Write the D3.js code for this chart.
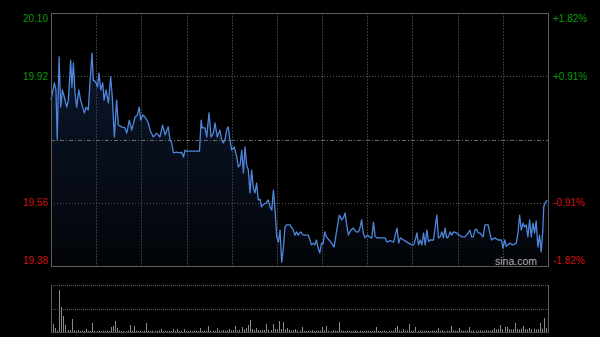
<!DOCTYPE html>
<html>
<head>
<meta charset="utf-8">
<script src="https://cdn.jsdelivr.net/npm/d3@7"></script>
<style>
  html, body { margin: 0; padding: 0; background: #000; }
  svg { display: block; }
</style>
</head>
<body>
<div id="chart"></div>
<script>
// intraday price chart, 240 trading minutes

var preClose = 19.74;
var priceTicks = [20.10, 19.92, 19.56, 19.38];
var pctTicks = ["+1.82%", "+0.91%", "-0.91%", "-1.82%"];

// minute of the session, price
var minutes = [0.0, 1.6, 2.4, 3.0, 3.9, 4.7, 5.5, 6.4, 7.6, 8.4, 9.5, 10.1, 10.8, 11.6, 12.4, 13.4, 14.3, 15.3, 16.1, 16.9,
	18.0, 18.8, 19.8, 20.4, 21.6, 22.4, 23.2, 24.0, 25.0, 25.6, 26.6, 27.7, 28.8, 29.6, 30.6, 31.7, 32.5, 34.1, 35.7, 36.6,
	37.8, 39.0, 40.6, 41.7, 42.6, 43.3, 44.3, 45.4, 47.0, 47.8, 49.4, 51.0, 52.6, 53.9, 55.1, 56.6, 57.5, 58.3, 59.1, 60.7,
	62.3, 63.1, 64.0, 64.7, 65.5, 71.7, 72.5, 73.0, 74.4, 75.2, 76.3, 77.3, 78.4, 79.2, 80.3, 81.6, 82.4, 83.2, 84.0, 84.8,
	85.6, 86.4, 87.3, 88.5, 89.7, 90.5, 91.3, 92.1, 92.9, 93.7, 94.5, 95.3, 96.1, 96.9, 97.7, 98.5, 99.3, 100.1, 100.9, 101.7,
	102.5, 103.8, 104.9, 105.8, 106.6, 107.4, 108.2, 109.0, 109.8, 110.6, 111.4, 112.2, 113.0, 113.8, 115.4, 117.0, 117.8, 118.6, 119.4, 120.6,
	121.8, 124.2, 125.8, 126.6, 127.4, 128.2, 129.0, 129.8, 130.6, 131.4, 132.2, 133.0, 134.3, 135.5, 136.7, 138.0, 139.2, 140.4, 141.2, 142.0,
	142.8, 143.6, 144.8, 146.0, 147.3, 148.4, 149.2, 150.0, 150.8, 151.6, 152.8, 153.7, 154.9, 155.7, 156.5, 157.3, 159.0, 161.4, 162.2, 163.8,
	165.5, 166.3, 167.1, 167.9, 168.7, 170.3, 171.9, 172.7, 174.3, 175.1, 175.9, 176.7, 177.5, 178.3, 179.1, 179.9, 180.7, 181.5, 182.3, 183.1,
	184.7, 186.3, 187.1, 187.9, 188.7, 189.5, 190.3, 191.1, 191.9, 192.7, 193.5, 194.3, 195.9, 196.7, 197.5, 198.3, 199.9, 201.5, 202.3, 203.1,
	203.9, 204.7, 205.5, 206.3, 207.1, 208.7, 209.5, 211.1, 211.9, 212.7, 214.3, 215.9, 217.5, 218.3, 219.1, 219.9, 221.5, 223.1, 224.7, 225.5,
	226.3, 227.1, 227.9, 228.7, 229.5, 230.3, 231.1, 231.9, 232.7, 233.5, 234.3, 235.1, 235.9, 236.7, 237.5, 237.9, 238.8, 239.6];

var prices = [19.852, 19.901, 19.881, 19.739, 19.975, 19.832, 19.881, 19.861, 19.832, 19.852, 19.966, 19.889, 19.958, 19.872, 19.832, 19.881, 19.852, 19.832, 19.815, 19.832,
	19.824, 19.901, 19.986, 19.909, 19.904, 19.889, 19.929, 19.881, 19.901, 19.852, 19.881, 19.844, 19.918, 19.861, 19.747, 19.852, 19.781, 19.776, 19.773, 19.758,
	19.795, 19.767, 19.804, 19.810, 19.832, 19.795, 19.810, 19.804, 19.787, 19.767, 19.747, 19.758, 19.747, 19.781, 19.753, 19.776, 19.739, 19.730, 19.702, 19.704,
	19.702, 19.704, 19.690, 19.710, 19.707, 19.707, 19.795, 19.773, 19.773, 19.747, 19.816, 19.747, 19.758, 19.787, 19.747, 19.767, 19.739, 19.730, 19.739, 19.767,
	19.776, 19.739, 19.710, 19.719, 19.690, 19.662, 19.667, 19.710, 19.645, 19.719, 19.667, 19.653, 19.588, 19.653, 19.602, 19.588, 19.616, 19.568, 19.570, 19.548,
	19.555, 19.559, 19.568, 19.548, 19.539, 19.596, 19.539, 19.463, 19.448, 19.482, 19.391, 19.431, 19.491, 19.497, 19.497, 19.482, 19.468, 19.477, 19.468, 19.477,
	19.468, 19.468, 19.440, 19.445, 19.440, 19.454, 19.431, 19.417, 19.445, 19.443, 19.477, 19.463, 19.454, 19.445, 19.434, 19.482, 19.525, 19.511, 19.517, 19.531,
	19.497, 19.468, 19.482, 19.488, 19.477, 19.477, 19.488, 19.511, 19.474, 19.460, 19.468, 19.463, 19.460, 19.505, 19.465, 19.460, 19.460, 19.460, 19.448, 19.452,
	19.448, 19.470, 19.488, 19.445, 19.460, 19.454, 19.448, 19.445, 19.440, 19.440, 19.454, 19.474, 19.440, 19.454, 19.440, 19.474, 19.440, 19.482, 19.450, 19.454,
	19.454, 19.525, 19.460, 19.463, 19.477, 19.460, 19.488, 19.460, 19.463, 19.477, 19.468, 19.477, 19.474, 19.468, 19.468, 19.463, 19.463, 19.474, 19.482, 19.463,
	19.463, 19.482, 19.485, 19.474, 19.474, 19.463, 19.497, 19.497, 19.474, 19.454, 19.460, 19.454, 19.454, 19.431, 19.454, 19.436, 19.445, 19.440, 19.445, 19.474,
	19.525, 19.482, 19.502, 19.491, 19.497, 19.463, 19.511, 19.463, 19.502, 19.474, 19.508, 19.434, 19.468, 19.420, 19.482, 19.548, 19.562, 19.568];

// volume per minute (lots)
var volumes = [300, 800, 400, 150, 4200, 2500, 1600, 700, 200, 150, 1300, 180, 120, 200, 100, 150, 120, 300, 120, 100,
	900, 120, 100, 150, 80, 120, 100, 150, 120, 500, 600, 1100, 400, 150, 100, 120, 90, 150, 700, 120,
	600, 150, 100, 120, 80, 130, 900, 150, 100, 120, 90, 110, 140, 300, 100, 120, 90, 130, 110, 300,
	120, 300, 100, 140, 300, 110, 90, 120, 100, 150, 130, 100, 400, 120, 150, 100, 600, 150, 120, 130,
	400, 150, 120, 200, 130, 150, 300, 180, 200, 600, 150, 200, 500, 250, 400, 700, 1200, 300, 200, 400,
	200, 150, 180, 200, 800, 250, 200, 800, 300, 250, 1100, 300, 1000, 250, 400, 200, 150, 180, 300, 150,
	150, 500, 120, 100, 150, 120, 200, 100, 130, 150, 120, 500, 150, 600, 120, 100, 150, 130, 120, 1000,
	150, 120, 100, 150, 130, 100, 120, 150, 100, 130, 120, 100, 150, 130, 120, 100, 150, 500, 130, 100,
	120, 150, 100, 130, 120, 150, 400, 600, 150, 120, 300, 130, 150, 800, 120, 150, 500, 130, 120, 150,
	120, 150, 130, 100, 150, 120, 130, 400, 120, 150, 100, 130, 120, 600, 150, 130, 120, 400, 150, 120,
	150, 130, 500, 120, 150, 130, 120, 150, 130, 120, 200, 150, 130, 200, 400, 250, 300, 700, 300, 500,
	500, 300, 250, 300, 900, 300, 250, 350, 600, 300, 250, 400, 300, 350, 250, 300, 900, 350, 1400, 400];

var W = 600, H = 337;
var mLeft = 51, mRight = 548, mTop = 13, mBottom = 266;
var vTop = 285, vBottom = 332;

var points = minutes.map(function(m, i) { return { t: m, p: prices[i] }; });

var x = d3.scaleLinear().domain([0, 240]).range([mLeft, mRight]);
var y = d3.scaleLinear().domain([19.38, 20.10]).range([mBottom, mTop]);
var yv = d3.scaleLinear().domain([0, 4700]).range([vBottom, vTop]);

var svg = d3.select("#chart").append("svg")
	.attr("width", W)
	.attr("height", H)
	.style("font-family", "'Liberation Sans', Arial, sans-serif");

svg.append("rect").attr("width", W).attr("height", H).attr("fill", "#000");

var defs = svg.append("defs");
var grad = defs.append("linearGradient")
	.attr("id", "areaGrad")
	.attr("x1", 0).attr("y1", 0).attr("x2", 0).attr("y2", 1);
grad.append("stop").attr("offset", "0%").attr("stop-color", "#1c3564").attr("stop-opacity", 0.45);
grad.append("stop").attr("offset", "100%").attr("stop-color", "#1c3564").attr("stop-opacity", 0.08);

// vertical grid
var vTicks = d3.range(1, 11).map(function(k) { return k * 240 / 11; });
svg.append("g").selectAll("line")
	.data(vTicks)
	.enter().append("line")
	.attr("x1", function(d) { return Math.round(x(d)) + 0.5; })
	.attr("x2", function(d) { return Math.round(x(d)) + 0.5; })
	.attr("y1", mTop).attr("y2", mBottom)
	.attr("stroke", "#3a3a3a")
	.attr("stroke-dasharray", "2,1");

// horizontal grid
svg.append("g").selectAll("line")
	.data([19.92, 19.56])
	.enter().append("line")
	.attr("x1", mLeft).attr("x2", mRight)
	.attr("y1", function(d) { return Math.round(y(d)) + 0.5; })
	.attr("y2", function(d) { return Math.round(y(d)) + 0.5; })
	.attr("stroke", "#5a5a5a")
	.attr("stroke-dasharray", "1,2");

// area + price line
var area = d3.area()
	.x(function(d) { return x(d.t); })
	.y0(mBottom)
	.y1(function(d) { return y(d.p); });

svg.append("path")
	.datum(points)
	.attr("d", area)
	.attr("fill", "url(#areaGrad)");

// previous close line
svg.append("line")
	.attr("x1", mLeft).attr("x2", mRight)
	.attr("y1", Math.round(y(preClose)) + 0.5)
	.attr("y2", Math.round(y(preClose)) + 0.5)
	.attr("stroke", "#6a6a6a")
	.attr("stroke-dasharray", "4,2,1,2");

var line = d3.line()
	.x(function(d) { return x(d.t); })
	.y(function(d) { return y(d.p); });

svg.append("path")
	.datum(points)
	.attr("d", line)
	.attr("fill", "none")
	.attr("stroke", "#4f86db")
	.attr("stroke-width", 1.3)
	.attr("stroke-linejoin", "round");

// frame
svg.append("rect")
	.attr("x", mLeft + 0.5).attr("y", mTop + 0.5)
	.attr("width", mRight - mLeft).attr("height", mBottom - mTop)
	.attr("fill", "none")
	.attr("stroke", "#5e5e5e");

// axes labels
var yAxisL = d3.axisLeft(y).tickValues(priceTicks).tickSize(0).tickPadding(3)
	.tickFormat(d3.format(".2f"));
var gl = svg.append("g").attr("transform", "translate(" + mLeft + ",0)").call(yAxisL);

var yAxisR = d3.axisRight(y).tickValues(priceTicks).tickSize(0).tickPadding(5)
	.tickFormat(function(d, i) { return pctTicks[i]; });
var gr = svg.append("g").attr("transform", "translate(" + mRight + ",0)").call(yAxisR);

[gl, gr].forEach(function(g) {
	g.select(".domain").remove();
	g.selectAll("text")
		.attr("font-size", "10px")
		.attr("font-family", "'Liberation Sans', Arial, sans-serif")
		.attr("fill", function(d) { return d > preClose ? "#0b9a0b" : "#d11010"; })
		.attr("dy", function(d, i) { return i == 0 ? "0.85em" : (i == priceTicks.length - 1 ? "-0.25em" : "0.32em"); });
});

svg.append("text")
	.attr("x", mRight - 11)
	.attr("y", mBottom - 1)
	.attr("text-anchor", "end")
	.attr("font-size", "10.5px")
	.attr("fill", "#b0b0b0")
	.text("sina.com");

// volume panel
svg.append("g").selectAll("line")
	.data([vTop, (vTop + vBottom) / 2])
	.enter().append("line")
	.attr("x1", mLeft).attr("x2", mRight)
	.attr("y1", function(d) { return Math.round(d) + 0.5; })
	.attr("y2", function(d) { return Math.round(d) + 0.5; })
	.attr("stroke", "#5a5a5a")
	.attr("stroke-dasharray", "1,1");

svg.append("g").selectAll("rect")
	.data(volumes)
	.enter().append("rect")
	.attr("x", function(d, i) { return Math.round(x(i)); })
	.attr("y", function(d) { return yv(d); })
	.attr("width", 1)
	.attr("height", function(d) { return vBottom - yv(d); })
	.attr("fill", "#8a8a8a");

svg.append("line")
	.attr("x1", mLeft + 0.5).attr("x2", mLeft + 0.5)
	.attr("y1", vTop).attr("y2", vBottom)
	.attr("stroke", "#5e5e5e");
svg.append("line")
	.attr("x1", mRight + 0.5).attr("x2", mRight + 0.5)
	.attr("y1", vTop).attr("y2", vBottom)
	.attr("stroke", "#5e5e5e");
svg.append("line")
	.attr("x1", mLeft).attr("x2", mRight + 1)
	.attr("y1", vBottom + 0.5).attr("y2", vBottom + 0.5)
	.attr("stroke", "#4a4a4a");
</script>
</body>
</html>
